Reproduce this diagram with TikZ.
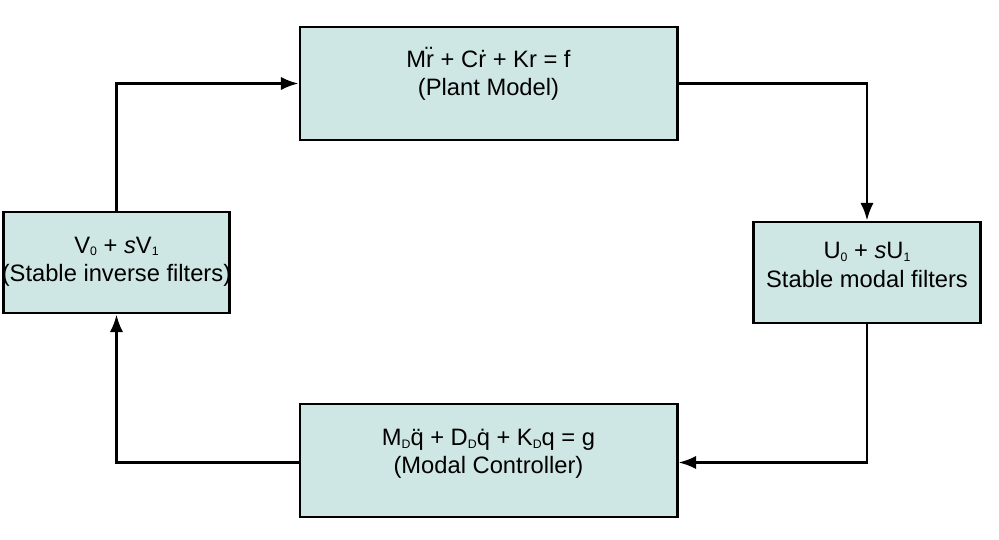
\documentclass[tikz,border=0pt]{standalone}
\usepackage{fontspec}
\setmainfont{Liberation Sans}
\usetikzlibrary{arrows.meta}
\definecolor{boxfill}{RGB}{207,231,228}
\tikzset{
  block/.style={draw=black, line width=1.7pt, fill=boxfill, inner sep=0pt},
  label text/.style={align=center, font=\fontsize{13.5}{16}\selectfont, inner sep=0pt},
  flow/.style={line width=1.4pt, -{Latex[length=10pt,width=7.5pt]}}
}
\newcommand{\sub}[1]{\raisebox{-0.2ex}{\fontsize{7}{7}\selectfont #1}}
\begin{document}
\begin{tikzpicture}
    % 図の大きさ
    \useasboundingbox (0,0) rectangle (19.98,-10.8);

    % ブロックの大きさ
    \def\wl{7.54}
    \def\hl{2.26}
    \def\ws{4.53}
    \def\hs{2.02}

    % プラントモデル
    \node[block, minimum width=\wl cm, minimum height=\hl cm] (plant) at (9.77,-1.67) {};
    \node[label text] (plantText) at ([yshift=0.19cm]plant.center)
      {M\"r + C\.r + Kr = f\\(Plant Model)};

    % モーダルフィルタ
    \node[block, minimum width=\ws cm, minimum height=\hs cm] (modal) at (17.34,-5.45) {};
    \node[label text] (modalText) at ([yshift=0.15cm]modal.center)
      {U\sub{0} + \textit{s}U\sub{1}\\Stable modal filters};

    % モーダル制御器
    \node[block, minimum width=\wl cm, minimum height=\hl cm] (ctrl) at (9.77,-9.21) {};
    \node[label text] (ctrlText) at ([yshift=0.13cm]ctrl.center)
      {M\sub{D}\"q + D\sub{D}\.q + K\sub{D}q = g\\(Modal Controller)};

    % 逆フィルタ
    \node[block, minimum width=\ws cm, minimum height=\hs cm] (inv) at (2.33,-5.25) {};
    \node[label text] (invText) at ([yshift=0.02cm]inv.center)
      {V\sub{0} + \textit{s}V\sub{1}\\(Stable inverse filters)};

    % 矢印
    \draw[flow] (inv.north) |- (plant.west);
    \draw[flow] (plant.east) -| (modal.north);
    \draw[flow] (modal.south) |- ([yshift=-0.04cm]ctrl.east);
    \draw[flow] ([yshift=-0.04cm]ctrl.west) -| (inv.south);

  \end{tikzpicture}
\end{document}
